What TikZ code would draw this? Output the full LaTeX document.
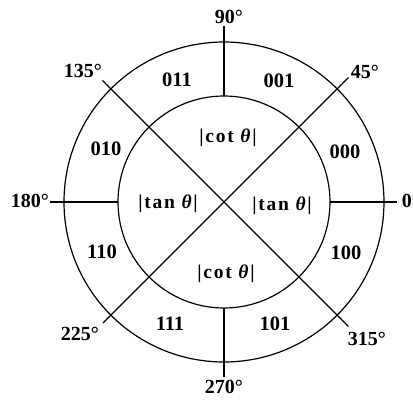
\documentclass[tikz,border=0pt]{standalone}
\usepackage{fontspec}
\setmainfont{Liberation Serif}
\usetikzlibrary{positioning}

\begin{document}
\begin{tikzpicture}[
  x=1pt, y=1pt,
  ring/.style={circle, draw=black, line width=1.2pt, inner sep=0pt, outer sep=0pt},
  spoke/.style={line width=1.2pt, draw=black},
  deg/.style={anchor=base, inner sep=0pt, font=\fontsize{20}{22}\selectfont\bfseries},
  bits/.style={anchor=base, inner sep=0pt, font=\fontsize{20.5}{22}\selectfont\bfseries},
  ratio/.style={anchor=base, inner sep=0pt, font=\fontsize{19.5}{21}\selectfont\bfseries\addfontfeature{LetterSpace=9}}
]
\useasboundingbox (-224,-198) rectangle (189,202);

\node[ring, minimum size=320pt] (outer) at (0,0) {};
\node[ring, minimum size=212pt] (inner) at (0,0) {};

% ends of the spokes
\coordinate (e0)   at (0:173);
\coordinate (e45)  at (45:176);
\coordinate (e90)  at (90:176);
\coordinate (e135) at (135:172);
\coordinate (e180) at (180:174);
\coordinate (e225) at (225:171);
\coordinate (e270) at (270:175);
\coordinate (e315) at (315:176);

\draw[spoke] (e45) -- (e225);
\draw[spoke] (e135) -- (e315);
\draw[spoke] (inner.north) -- (e90);
\draw[spoke] (inner.south) -- (e270);
\draw[spoke] (inner.west) -- (e180);
\draw[spoke] (inner.east) -- (e0);

% angles
\node[deg] (a90)  at (5,179)     {90°};
\node[deg] (a45)  at (141,124)   {45°};
\node[deg] (a135) at (-141,125)  {135°};
\node[deg] (a180) at (-194,-5)   {180°};
\node[deg] (a0)   at (187,-5)    {0°};
\node[deg] (a225) at (-144,-138) {225°};
\node[deg] (a315) at (143,-143)  {315°};
\node[deg] (a270) at (0,-191)    {270°};

% sector codes
\node[bits] (c011) at (-47,116)  {011};
\node[bits] (c001) at (55,115)   {001};
\node[bits] (c010) at (-118,47)  {010};
\node[bits] (c000) at (121,44)   {000};
\node[bits] (c110) at (-122,-56) {110};
\node[bits] (c100) at (122,-57)  {100};
\node[bits] (c111) at (-54,-128) {111};
\node[bits] (c101) at (51,-128)  {101};

% inner ratios
\node[ratio] (rtop)   at (4,60)   {|cot \textit{θ}|};
\node[ratio] (rbot)   at (2,-76)  {|cot \textit{θ}|};
\node[ratio] (rleft)  at (-56,-6) {|tan \textit{θ}|};
\node[ratio] (rright) at (58,-8)  {|tan \textit{θ}|};

\end{tikzpicture}
\end{document}
